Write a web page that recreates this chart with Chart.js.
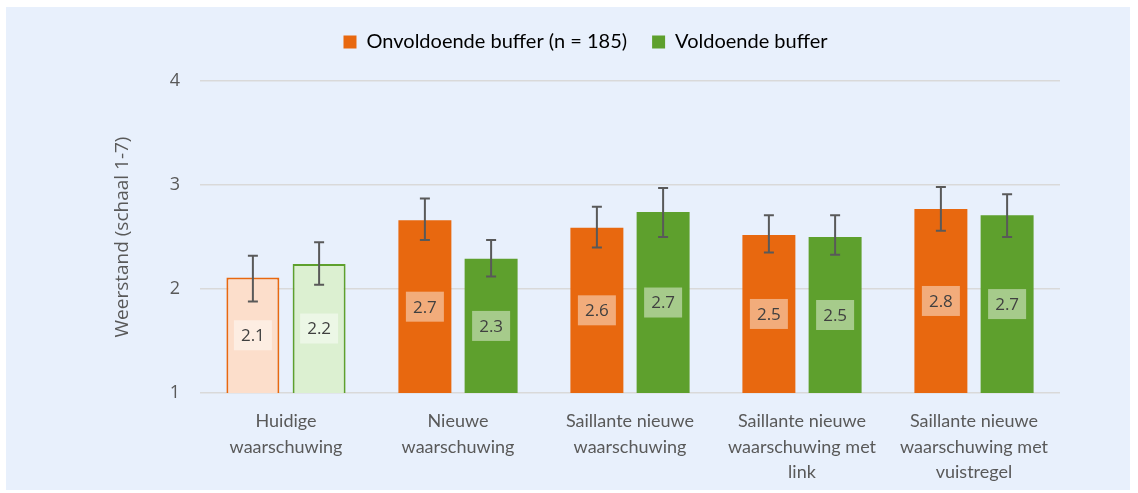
<!DOCTYPE html>
<html>
<head>
<meta charset="utf-8">
<script src="https://cdn.jsdelivr.net/npm/chart.js@4.4.1/dist/chart.umd.min.js"></script>
<style>
  body { margin: 0; background: #fff; }
  #wrap { position: absolute; left: 6px; top: 7px; width: 1124px; height: 483px; background: #e8f0fc; }
</style>
</head>
<body>
<div id="wrap"><canvas id="chart"></canvas></div>
<script>
var categories = [
  ["Huidige", "waarschuwing"],
  ["Nieuwe", "waarschuwing"],
  ["Saillante nieuwe", "waarschuwing"],
  ["Saillante nieuwe", "waarschuwing met", "link"],
  ["Saillante nieuwe", "waarschuwing met", "vuistregel"]
];
var onvoldoende = [2.11, 2.66, 2.59, 2.52, 2.77];
var onvoldoendeLow = [1.88, 2.47, 2.40, 2.35, 2.56];
var onvoldoendeHigh = [2.32, 2.87, 2.79, 2.71, 2.98];
var voldoende = [2.24, 2.29, 2.74, 2.50, 2.71];
var voldoendeLow = [2.04, 2.12, 2.50, 2.33, 2.50];
var voldoendeHigh = [2.45, 2.47, 2.97, 2.71, 2.91];
var yTicks = [1, 2, 3, 4];

var orange = "#e8680f";
var green = "#5ea02d";
var orangeLight = "#fcdecb";
var greenLight = "#dcf0d1";

var errors = [
  { low: onvoldoendeLow, high: onvoldoendeHigh },
  { low: voldoendeLow, high: voldoendeHigh }
];

// extra room under the legend
var legendGap = {
  id: "legendGap",
  beforeInit: function (chart) {
    var fit = chart.legend.fit;
    chart.legend.fit = function () {
      fit.call(this);
      this.height += 19;
    };
  }
};

// error bars
var errorBars = {
  id: "errorBars",
  afterDatasetsDraw: function (chart) {
    var ctx = chart.ctx;
    var y = chart.scales.y;
    ctx.save();
    ctx.strokeStyle = "#595959";
    ctx.lineWidth = 2;
    chart.data.datasets.forEach(function (ds, i) {
      var meta = chart.getDatasetMeta(i);
      meta.data.forEach(function (bar, j) {
        var yl = y.getPixelForValue(errors[i].low[j]);
        var yh = y.getPixelForValue(errors[i].high[j]);
        ctx.beginPath();
        ctx.moveTo(bar.x, yl); ctx.lineTo(bar.x, yh);
        ctx.moveTo(bar.x - 5, yl); ctx.lineTo(bar.x + 5, yl);
        ctx.moveTo(bar.x - 5, yh); ctx.lineTo(bar.x + 5, yh);
        ctx.stroke();
      });
    });
    ctx.restore();
  }
};

// value labels in boxes
var valueLabels = {
  id: "valueLabels",
  afterDatasetsDraw: function (chart) {
    var ctx = chart.ctx;
    var y = chart.scales.y;
    ctx.save();
    ctx.font = "17px 'Open Sans'";
    ctx.textAlign = "center";
    ctx.textBaseline = "middle";
    chart.data.datasets.forEach(function (ds, i) {
      var meta = chart.getDatasetMeta(i);
      meta.data.forEach(function (bar, j) {
        var cy = (bar.y + y.getPixelForValue(y.min)) / 2;
        ctx.fillStyle = "rgba(255,255,255,0.45)";
        ctx.fillRect(bar.x - 19, cy - 15, 38, 30);
        ctx.fillStyle = "#404040";
        ctx.fillText(ds.data[j].toFixed(1), bar.x, cy + 1);
      });
    });
    ctx.restore();
  }
};

new Chart(document.getElementById("chart"), {
  type: "bar",
  data: {
    labels: categories,
    datasets: [
      {
        label: "Onvoldoende buffer (n = 185)",
        data: onvoldoende,
        backgroundColor: [orangeLight, orange, orange, orange, orange],
        borderColor: orange,
        borderWidth: [2, 0, 0, 0, 0],
        borderSkipped: "bottom"
      },
      {
        label: "Voldoende buffer",
        data: voldoende,
        backgroundColor: [greenLight, green, green, green, green],
        borderColor: green,
        borderWidth: [2, 0, 0, 0, 0],
        borderSkipped: "bottom"
      }
    ]
  },
  options: {
    responsive: true,
    maintainAspectRatio: false,
    animation: false,
    categoryPercentage: 0.77,
    barPercentage: 0.8,
    layout: { padding: { left: 105, right: 70, top: 0, bottom: 0 } },
    plugins: {
      tooltip: { enabled: false },
      legend: {
        position: "top",
        labels: {
          font: { family: "Lato", size: 20 },
          color: "#404040",
          boxWidth: 13,
          boxHeight: 13,
          padding: 25,
          generateLabels: function (chart) {
            return [
              { text: chart.data.datasets[0].label, fillStyle: orange, strokeStyle: orange, lineWidth: 0, datasetIndex: 0 },
              { text: chart.data.datasets[1].label, fillStyle: green, strokeStyle: green, lineWidth: 0, datasetIndex: 1 }
            ];
          }
        }
      }
    },
    scales: {
      x: {
        grid: { display: false, drawTicks: false },
        border: { display: false },
        ticks: {
          font: { family: "Lato", size: 18, lineHeight: 1.4 },
          color: "#595959",
          padding: 16,
          maxRotation: 0
        },
        afterFit: function (scale) { scale.height = 97; }
      },
      y: {
        min: 1,
        max: 4,
        afterBuildTicks: function (scale) {
          scale.ticks = yTicks.map(function (v) { return { value: v }; });
        },
        grid: { color: "#d9d9d9", lineWidth: 1.5, drawTicks: false },
        border: { display: false },
        ticks: {
          font: { family: "Open Sans", size: 18 },
          color: "#595959",
          padding: 20
        },
        title: {
          display: true,
          text: "Weerstand (schaal 1-7)",
          font: { family: "Open Sans", size: 19 },
          color: "#595959",
          padding: 0
        },
        afterFit: function (scale) { scale.width = 89; }
      }
    }
  },
  plugins: [legendGap, errorBars, valueLabels]
});
</script>
</body>
</html>
